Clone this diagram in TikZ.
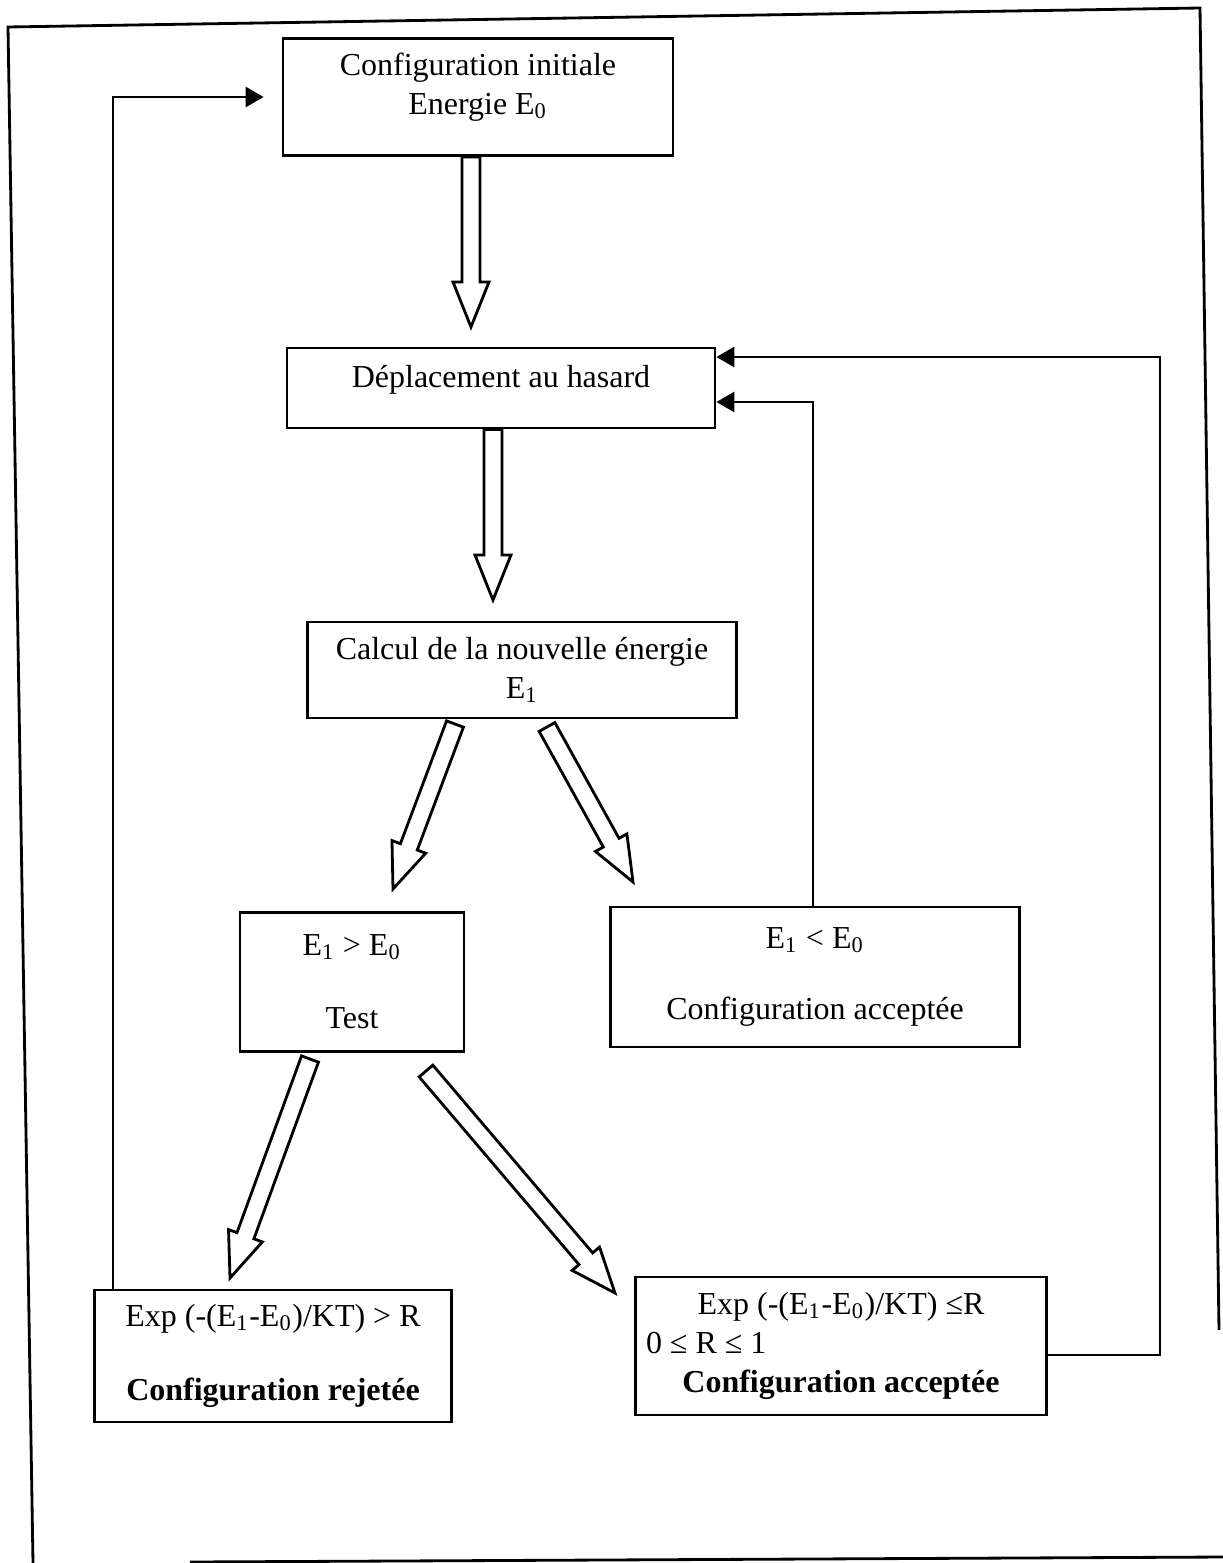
\documentclass[tikz,border=0pt]{standalone}
\usepackage{fontspec}
\setmainfont{Liberation Serif}
\usetikzlibrary{arrows.meta,calc}

\newcommand{\shaftw}{0.9mm}
\newcommand{\headw}{1.8mm}
\newcommand{\headl}{4.5mm}
% hollow block arrow from #1 to #2
\newcommand{\hollowarrow}[2]{%
  \draw[hollow] ($(#1)!\shaftw!90:(#2)$)
    -- ($(#2)!\headl!(#1)!\shaftw!-90:(#1)$)
    -- ($(#2)!\headl!(#1)!\headw!-90:(#1)$)
    -- (#2)
    -- ($(#2)!\headl!(#1)!\headw!90:(#1)$)
    -- ($(#2)!\headl!(#1)!\shaftw!90:(#1)$)
    -- ($(#1)!\shaftw!-90:(#2)$) -- cycle;}

\begin{document}
\begin{tikzpicture}[x=0.1mm, y=-0.1mm, line width=0.8pt,
  box/.style={draw, inner sep=0pt, align=center, font=\fontsize{9.1}{11}\selectfont},
  flow/.style={-{Triangle[length=1.8mm, width=2mm]}},
  hollow/.style={draw, fill=white, line join=miter}]
  \useasboundingbox (0,0) rectangle (1223,1563);
  % outer frame
  \draw (33,1563) -- (8,27) -- (1200,8) -- (1219,1330);
  \draw (190,1562) -- (1223,1557);

  \node[box, minimum width=39mm, minimum height=11.7mm, text depth=2.7mm] (init) at (478,97) {Configuration initiale\\Energie E\textsubscript{0}};
  \node[box, minimum width=42.8mm, minimum height=8mm, text depth=2.3mm] (dep) at (501,388) {Déplacement au hasard};
  \node[box, minimum width=42.9mm, minimum height=9.6mm] (energy) at (522,670) {Calcul de la nouvelle énergie\\E\textsubscript{1}};
  \node[box, minimum width=22.4mm, minimum height=13.9mm] (test) at (352,982) {E\textsubscript{1} > E\textsubscript{0}\\[3.4mm]Test};
  \node[box, minimum width=40.9mm, minimum height=14mm] (accept) at (815,977) {E\textsubscript{1} < E\textsubscript{0}\\[3.3mm]Configuration acceptée};
  \node[box, minimum width=35.7mm, minimum height=13.2mm] (reject) at (273,1356) {Exp (-(E\textsubscript{1}-E\textsubscript{0})/KT) > R\\[3.6mm]\textbf{Configuration rejetée}};
  \node[box, minimum width=41.1mm, minimum height=13.8mm] (acceptR) at (841,1346) {Exp (-(E\textsubscript{1}-E\textsubscript{0})/KT) ≤R\\\makebox[39mm][l]{0 ≤ R ≤ 1}\\\textbf{Configuration acceptée}};

  % hollow arrows
  \coordinate (t1) at (471,327);
  \coordinate (s1) at (init.south -| t1);
  \coordinate (t2) at (493,600);
  \coordinate (s2) at (dep.south -| t2);
  \coordinate (s3) at (455,724);
  \coordinate (t3) at (393,889);
  \coordinate (s4) at (547,727);
  \coordinate (t4) at (633,882);
  \coordinate (s5) at (310,1059);
  \coordinate (t5) at (230,1278);
  \coordinate (s6) at (426,1071);
  \coordinate (t6) at (615,1293);
  \hollowarrow{s1}{t1}
  \hollowarrow{s2}{t2}
  \hollowarrow{s3}{t3}
  \hollowarrow{s4}{t4}
  \hollowarrow{s5}{t5}
  \hollowarrow{s6}{t6}

  % feedback lines
  \coordinate (c1) at (113,97);
  \draw[flow, shorten >=1.8mm] (reject.north -| c1) -- (c1) -- (init.west);
  \coordinate (c2) at (813,402);
  \draw[flow] (accept.north -| c2) -- (c2) -- (c2 -| dep.east);
  \coordinate (c3) at (1160,357);
  \draw[flow] ([yshift=-0.9mm]acceptR.east) -| (c3) -- (c3 -| dep.east);
\end{tikzpicture}
\end{document}
